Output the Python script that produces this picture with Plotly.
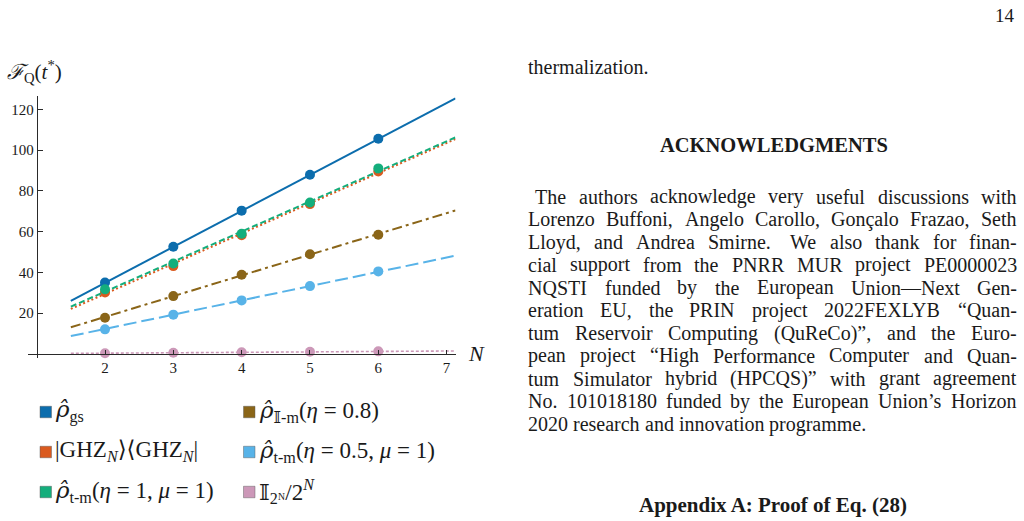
import plotly.graph_objects as go

# ---------------- data ----------------
N_points = [2, 3, 4, 5, 6]
fit_N = [1.5, 7.13]

gs_vals = [35.1, 52.6, 70.3, 87.9, 105.5]
ghz_vals = [30.2, 43.1, 58.2, 73.5, 89.5]
tm11_vals = [31.7, 44.4, 59.0, 74.3, 91.0]
im08_vals = [17.8, 28.4, 38.9, 48.9, 58.5]
tm05_vals = [12.1, 19.3, 26.3, 33.3, 40.5]
mixed_vals = [0.4, 0.6, 0.9, 1.1, 1.3]

gs_fit = [26.1, 125.3]
ghz_fit = [22.1, 105.4]
tm11_fit = [23.2, 106.2]
im08_fit = [13.1, 70.4]
tm05_fit = [8.8, 48.2]
mixed_fit = [0.3, 1.5]

x_tick_vals = [2, 3, 4, 5, 6, 7]
y_tick_vals = [20, 40, 60, 80, 100, 120]

RHO = "<span style=\"font-family:DejaVu Serif\"><i>ρ̂</i></span>"
legend_labels = [
    RHO + "<sub>gs</sub>",
    "|GHZ<sub><i>N</i></sub>⟩⟨GHZ<sub><i>N</i></sub>|",
    RHO + "<sub>t-m</sub>(<i>η</i> = 1, <i>μ</i> = 1)",
    RHO + "<sub>𝕀-m</sub>(<i>η</i> = 0.8)",
    RHO + "<sub>t-m</sub>(<i>η</i> = 0.5, <i>μ</i> = 1)",
    "𝕀<sub>2ᴺ</sub>/2<sup><i>N</i></sup>",
]

body_lines = [
    "The authors acknowledge very useful discussions with",
    "Lorenzo Buffoni, Angelo Carollo, Gonçalo Frazao, Seth",
    "Lloyd, and Andrea Smirne. We also thank for finan-",
    "cial support from the PNRR MUR project PE0000023",
    "NQSTI funded by the European Union—Next Gen-",
    "eration EU, the PRIN project 2022FEXLYB “Quan-",
    "tum Reservoir Computing (QuReCo)”, and the Euro-",
    "pean project “High Performance Computer and Quan-",
    "tum Simulator hybrid (HPCQS)” with grant agreement",
    "No. 101018180 funded by the European Union’s Horizon",
    "2020 research and innovation programme.",
]

# ---------------- styles ----------------
W, H = 1024, 521
SERIF = "Liberation Serif, DejaVu Serif, serif"
INK = "#1a1a1a"
AX = "#2a2a2a"

series = [
    (gs_vals, gs_fit, "#0C6DAD", "solid", 2.0),
    (ghz_vals, ghz_fit, "#DA5A1F", "2px,2.5px", 2.0),
    (tm11_vals, tm11_fit, "#14AE7C", "6px,3px", 2.0),
    (im08_vals, im08_fit, "#8A6518", "10px,4px,3px,4px", 2.0),
    (tm05_vals, tm05_fit, "#58B3E8", "13px,5px", 2.0),
    (mixed_vals, mixed_fit, "#CC98B8", "3px,2px", 1.6),
]

fig = go.Figure()
for vals, fit, col, dash, lw in series:
    fig.add_trace(go.Scatter(x=fit_N, y=fit, mode="lines",
                             line=dict(color=col, width=lw, dash=dash),
                             hoverinfo="skip", cliponaxis=False))
    fig.add_trace(go.Scatter(x=N_points, y=vals, mode="markers",
                             marker=dict(color=col, size=10, line=dict(width=0)),
                             cliponaxis=False))


def fx(p):
    return p / W


def fy(p):
    return 1 - p / H


fig.update_layout(
    width=W, height=H,
    margin=dict(l=0, r=0, t=0, b=0),
    paper_bgcolor="white", plot_bgcolor="white",
    showlegend=False,
    xaxis=dict(domain=[fx(27.8), fx(455.5)], range=[0.87, 7.13],
               anchor="free", position=fy(354),
               showline=True, linecolor=AX, linewidth=1,
               ticks="inside", ticklen=4, tickcolor=AX, tickwidth=1,
               tickvals=x_tick_vals, showgrid=False, zeroline=False,
               tickfont=dict(family=SERIF, size=15, color=INK)),
    yaxis=dict(domain=[fy(358.1), fy(96.4)], range=[-2, 126.3],
               anchor="free", position=fx(36.7),
               showline=True, linecolor=AX, linewidth=1,
               ticks="inside", ticklen=5, tickcolor=AX, tickwidth=1,
               tickvals=y_tick_vals, showgrid=False, zeroline=False,
               tickfont=dict(family=SERIF, size=15, color=INK)),
)

ann = []


def add_text(text, x, y, size, xanchor="left", bold=False):
    t = f"<b>{text}</b>" if bold else text
    ann.append(dict(text=t, x=fx(x), y=fy(y), xref="paper", yref="paper",
                    xanchor=xanchor, yanchor="middle", showarrow=False,
                    borderpad=0, borderwidth=0,
                    font=dict(family=SERIF, size=size, color=INK)))


# axis labels
add_text("<i>ℱ</i><sub>Q</sub>(<i>t</i><sup>*</sup>)", 7, 71, 21)
add_text("<i>N</i>", 476, 353, 22, xanchor="center")

# legend
swatch_pos = [(40, 412), (40, 452), (40, 492), (243.5, 412), (243.5, 452), (243.5, 492)]
shapes = []
for (sx, sy), (vals, fit, col, dash, lw), lab in zip(swatch_pos, series, legend_labels):
    shapes.append(dict(type="rect", xref="paper", yref="paper",
                       x0=fx(sx), x1=fx(sx + 11.5), y0=fy(sy + 5.75), y1=fy(sy - 5.75),
                       fillcolor=col, line=dict(color="rgba(90,90,90,0.45)", width=1)))
    add_text(lab, sx + 15, sy - 1, 23)

# right-hand page text
add_text("14", 1015, 15, 19, xanchor="right")
add_text("thermalization.", 528.3, 67, 20)
add_text("ACKNOWLEDGMENTS", 774, 145, 20.5, xanchor="center", bold=True)
add_text("Appendix A: Proof of Eq. (28)", 772.5, 505, 21, xanchor="center", bold=True)

# Times-compatible advance widths (1/1000 em) used to justify the paragraph
TW = {" ": 250, "a": 444, "b": 500, "c": 444, "d": 500, "e": 444, "f": 333, "g": 500,
      "h": 500, "i": 278, "j": 278, "k": 500, "l": 278, "m": 778, "n": 500, "o": 500,
      "p": 500, "q": 500, "r": 333, "s": 389, "t": 278, "u": 500, "v": 500, "w": 722,
      "x": 500, "y": 500, "z": 444, "A": 722, "B": 667, "C": 667, "D": 722, "E": 611,
      "F": 556, "G": 722, "H": 722, "I": 333, "J": 389, "K": 722, "L": 611, "M": 889,
      "N": 722, "O": 722, "P": 556, "Q": 722, "R": 667, "S": 556, "T": 611, "U": 722,
      "V": 722, "W": 944, "X": 722, "Y": 722, "Z": 611, ",": 250, ".": 250, "-": 333,
      ":": 278, "(": 333, ")": 333, "“": 444, "”": 444, "’": 333, "—": 1000, "ç": 444}


def width(s, size):
    return sum(TW.get(c, 500) for c in s) / 1000.0 * size


BODY_SIZE = 20
LEFT, RIGHT, INDENT = 528.3, 1016.7, 535.0
LINE0, LEAD = 196.7, 22.75
for i, line in enumerate(body_lines):
    y = LINE0 + i * LEAD
    start = INDENT if i == 0 else LEFT
    words = line.split(" ")
    last = i == len(body_lines) - 1
    ws = [width(w, BODY_SIZE) for w in words]
    if last:
        gap_unit = width(" ", BODY_SIZE)
        weights = [1.0] * (len(words) - 1)
    else:
        weights = [1.5 if (words[k].endswith(".") and words[k] != "No.") else 1.0
                   for k in range(len(words) - 1)]
        gap_unit = (RIGHT - start - sum(ws)) / sum(weights)
    x = start
    for k, w in enumerate(words):
        if not last and k == len(words) - 1:
            add_text(w, RIGHT, y, BODY_SIZE, xanchor="right")
        else:
            add_text(w, x, y, BODY_SIZE)
        if k < len(words) - 1:
            x += ws[k] + gap_unit * weights[k]

fig.update_layout(annotations=ann, shapes=shapes)
fig.write_html("out.html")
